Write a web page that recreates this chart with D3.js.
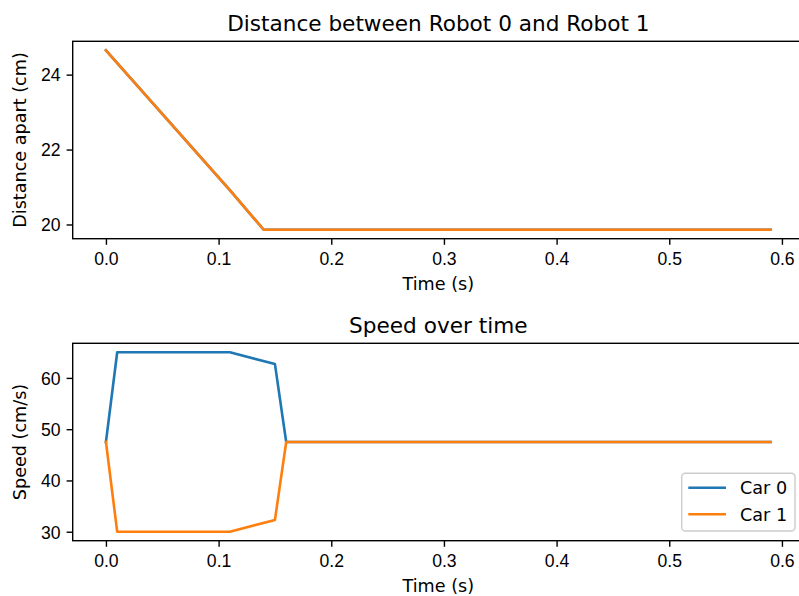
<!DOCTYPE html>
<html>
<head>
<meta charset="utf-8">
<script src="https://cdn.jsdelivr.net/npm/d3@7"></script>
<style>
  body { margin: 0; background: #fff; }
  svg { display: block; font-family: "DejaVu Sans", sans-serif; }
</style>
</head>
<body>
<svg id="chart" width="799" height="596"></svg>
<script>
// distance entre les deux robots
const distTime = [0, 0.11, 0.14, 0.59];
const distance = [24.65, 20.92, 19.86, 19.86];

// vitesses des deux voitures
const speedTime = [0, 0.01, 0.11, 0.15, 0.16, 0.59];
const car0Speed = [47.5, 65, 65, 62.7, 47.5, 47.5];
const car1Speed = [47.5, 30, 30, 32.3, 47.5, 47.5];

const xTicks = [0, 0.1, 0.2, 0.3, 0.4, 0.5, 0.6];
const distTicks = [20, 22, 24];
const speedTicks = [30, 40, 50, 60];
const legendLabels = ["Car 0", "Car 1"];

const blue = "#1f77b4", orange = "#ff7f0e";
const fs = 17.6;
const svg = d3.select("#chart");

const left = 72.7, right = 803.9;

function pad(ext) {
  const m = (ext[1] - ext[0]) * 0.05;
  return [ext[0] - m, ext[1] + m];
}

function drawPanel(top, bottom, title, ylabel, yTicks, series, xs, yExtent) {
  const x = d3.scaleLinear().domain(pad([0, 0.59])).range([left, right]);
  const y = d3.scaleLinear().domain(pad(yExtent)).range([bottom, top]);
  const g = svg.append("g");

  series.forEach(s => {
    g.append("path")
      .datum(s.values.map((v, i) => [xs[i], v]))
      .attr("fill", "none")
      .attr("stroke", s.color)
      .attr("stroke-width", 2.6)
      .attr("stroke-linejoin", "round")
      .attr("stroke-linecap", "square")
      .attr("d", d3.line().x(d => x(d[0])).y(d => y(d[1])));
  });

  const xAxis = g.append("g")
    .attr("transform", `translate(0,${bottom})`)
    .call(d3.axisBottom(x).tickValues(xTicks).tickFormat(d3.format(".1f")).tickSize(6.1).tickPadding(6.1));
  xAxis.select(".domain").remove();
  xAxis.selectAll("text").attr("dy", "0.82em").style("font-size", fs + "px").attr("fill", "#000");
  xAxis.selectAll("line").attr("stroke", "#000").attr("stroke-width", 1.4);

  const yAxis = g.append("g")
    .attr("transform", `translate(${left},0)`)
    .call(d3.axisLeft(y).tickValues(yTicks).tickFormat(d3.format("d")).tickSize(6.1).tickPadding(6.1));
  yAxis.select(".domain").remove();
  yAxis.selectAll("text").attr("dy", "0.36em").style("font-size", fs + "px").attr("fill", "#000");
  yAxis.selectAll("line").attr("stroke", "#000").attr("stroke-width", 1.4);

  // cadre (le bord droit sort de l'image)
  g.append("rect")
    .attr("x", left).attr("y", top)
    .attr("width", right - left).attr("height", bottom - top)
    .attr("fill", "none").attr("stroke", "#000").attr("stroke-width", 1.4);

  g.append("text")
    .attr("x", (left + right) / 2).attr("y", top - 10.4)
    .attr("text-anchor", "middle")
    .style("font-size", "21.6px")
    .text(title);

  g.append("text")
    .attr("x", (left + right) / 2).attr("y", bottom + 51)
    .attr("text-anchor", "middle")
    .style("font-size", fs + "px")
    .text("Time (s)");

  g.append("text")
    .attr("transform", `translate(25.5,${(top + bottom) / 2}) rotate(-90)`)
    .attr("text-anchor", "middle")
    .style("font-size", fs + "px")
    .text(ylabel);

  return g;
}

drawPanel(41.3, 238.7, "Distance between Robot 0 and Robot 1", "Distance apart (cm)", distTicks,
  [{ values: distance, color: blue }, { values: distance, color: orange }],
  distTime, d3.extent(distance));

const g2 = drawPanel(343.3, 540.7, "Speed over time", "Speed (cm/s)", speedTicks,
  [{ values: car0Speed, color: blue }, { values: car1Speed, color: orange }],
  speedTime, d3.extent(car0Speed.concat(car1Speed)));

// légende
const lg = g2.append("g").attr("transform", "translate(681.7,473.3)");
lg.append("rect")
  .attr("width", 113.3).attr("height", 57.7)
  .attr("rx", 3.5)
  .attr("fill", "#fff").attr("fill-opacity", 0.8)
  .attr("stroke", "#cccccc").attr("stroke-width", 1.4);
[blue, orange].forEach((c, i) => {
  const yy = 14.4 + i * 26.6;
  lg.append("line")
    .attr("x1", 6.6).attr("x2", 44.3).attr("y1", yy).attr("y2", yy)
    .attr("stroke", c).attr("stroke-width", 2.6);
  lg.append("text")
    .attr("x", 58.3).attr("y", yy + 6.3)
    .style("font-size", fs + "px")
    .text(legendLabels[i]);
});
</script>
</body>
</html>
